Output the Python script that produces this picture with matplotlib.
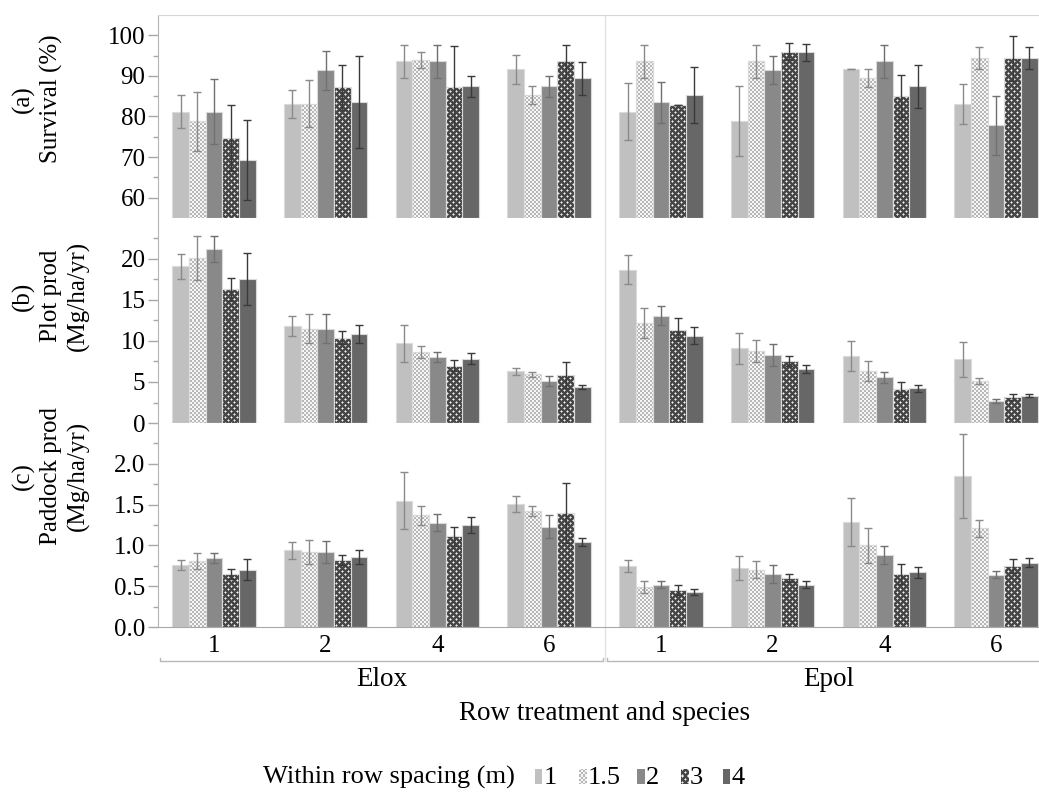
import numpy as np
import matplotlib
matplotlib.use('Agg')
import matplotlib.pyplot as plt
from matplotlib.path import Path
from matplotlib.ticker import FixedLocator, FormatStrFormatter
import matplotlib.transforms as mtransforms

plt.rcParams['font.family'] = ['Liberation Serif', 'DejaVu Serif']

# ---------------- data ----------------
species = ['Elox', 'Epol']
row_treatments = ['1', '2', '4', '6']
spacings = ['1', '1.5', '2', '3', '4']
# columns: Elox 1,2,4,6 then Epol 1,2,4,6 ; rows: spacing 1, 1.5, 2, 3, 4
survival_mean = [
    [81.2, 83.1, 93.6, 91.6, 81.2, 78.9, 91.8, 83.1],
    [78.8, 83.1, 93.9, 85.2, 93.6, 93.6, 89.5, 94.4],
    [81.2, 91.4, 93.6, 87.4, 83.5, 91.5, 93.6, 77.8],
    [74.7, 87.2, 87.2, 93.6, 82.8, 95.9, 85.1, 94.3],
    [69.3, 83.5, 87.4, 89.4, 85.3, 95.8, 87.4, 94.4],
]
survival_err = [
    [4.0, 3.5, 4.0, 3.5, 7.0, 8.7, 0.0, 4.9],
    [7.3, 5.8, 2.0, 2.2, 4.0, 4.0, 2.3, 2.7],
    [8.0, 4.8, 4.0, 2.6, 5.0, 3.5, 4.0, 7.3],
    [8.1, 5.5, 10.1, 4.0, 0.0, 2.1, 5.2, 5.5],
    [9.9, 11.3, 2.6, 4.0, 7.0, 2.1, 5.4, 2.7],
]
plot_mean = [
    [19.1, 11.8, 9.7, 6.3, 18.7, 9.1, 8.17, 7.76],
    [20.1, 11.5, 8.66, 5.97, 12.2, 8.78, 6.34, 5.12],
    [21.2, 11.5, 8.05, 5.16, 13.1, 8.25, 5.56, 2.68],
    [16.3, 10.4, 7.0, 5.85, 11.4, 7.6, 4.14, 3.17],
    [17.6, 10.8, 7.84, 4.39, 10.65, 6.59, 4.22, 3.33],
]
plot_err = [
    [1.55, 1.25, 2.25, 0.4, 1.75, 1.85, 1.83, 2.1],
    [2.7, 1.8, 0.75, 0.3, 1.85, 1.35, 1.2, 0.38],
    [1.6, 1.75, 0.6, 0.6, 1.15, 1.35, 0.65, 0.2],
    [1.4, 0.8, 0.65, 1.55, 1.45, 0.63, 0.83, 0.42],
    [3.15, 1.1, 0.65, 0.2, 1.0, 0.5, 0.43, 0.22],
]
paddock_mean = [
    [0.76, 0.94, 1.55, 1.51, 0.75, 0.72, 1.29, 1.85],
    [0.81, 0.92, 1.37, 1.42, 0.49, 0.70, 1.00, 1.21],
    [0.85, 0.92, 1.28, 1.23, 0.52, 0.65, 0.88, 0.64],
    [0.65, 0.82, 1.11, 1.40, 0.45, 0.60, 0.65, 0.75],
    [0.70, 0.86, 1.25, 1.04, 0.43, 0.52, 0.67, 0.79],
]
paddock_err = [
    [0.06, 0.105, 0.355, 0.10, 0.07, 0.15, 0.295, 0.515],
    [0.10, 0.145, 0.115, 0.065, 0.07, 0.105, 0.21, 0.105],
    [0.06, 0.135, 0.10, 0.145, 0.045, 0.105, 0.107, 0.043],
    [0.06, 0.06, 0.115, 0.365, 0.06, 0.05, 0.123, 0.087],
    [0.13, 0.085, 0.10, 0.05, 0.037, 0.047, 0.065, 0.05],
]
survival_ticks = [60, 70, 80, 90, 100]
plot_ticks = [0, 5, 10, 15, 20]
paddock_ticks = [0.0, 0.5, 1.0, 1.5, 2.0]
panel_labels = ['(a)\nSurvival (%)', '(b)\nPlot prod\n(Mg/ha/yr)', '(c)\nPaddock prod\n(Mg/ha/yr)']

# ---------------- styling ----------------
W, H = 1039, 799
face = ['#c0c0c0', '#d6d6d6', '#898989', '#5c5c5c', '#676767']
ecol = ['#8a8a8a', '#8a8a8a', '#707070', '#3a3a3a', '#3a3a3a']
edge = '#dadada'
bw = 0.149


def hex2rgb(h):
    h = h.lstrip('#')
    return np.array([int(h[i:i + 2], 16) for i in (0, 2, 4)]) / 255.0


def texture(kind, h, w):
    yy, xx = np.mgrid[0:h, 0:w]
    if kind == 'checker':
        m = ((yy // 2 + xx // 2) % 2) == 0
        img = np.where(m[..., None], hex2rgb('#f6f6f6'), hex2rgb('#b8b8b8'))
    else:
        ty, tx = yy % 6, xx % 6
        base = np.zeros((h, w), dtype=int)
        for cy, cx in ((1, 1), (4, 4)):
            base[(ty == cy) & (tx == cx)] = 2
            arm = ((ty == cy) & ((tx == cx - 1) | (tx == cx + 1))) | \
                  ((tx == cx) & ((ty == cy - 1) | (ty == cy + 1)))
            base[arm] = 1
        cols = np.array([hex2rgb('#454545'), hex2rgb('#a8a8a8'), hex2rgb('#f2f2f2')])
        img = cols[base]
    return img


fig = plt.figure(figsize=(W / 100, H / 100), dpi=100)
fig.patch.set_facecolor('white')

xl, xr = 158, 1052
panels_px = [(15, 218), (218, 423), (423, 627)]
datasets = [(survival_mean, survival_err, (55, 105), survival_ticks, '%d'),
            (plot_mean, plot_err, (0, 25), plot_ticks, '%d'),
            (paddock_mean, paddock_err, (0, 2.5), paddock_ticks, '%.1f')]
label_centers = [99, 296, 476]

groups = np.arange(8)
axes = []
for i, ((top, bot), (mean, err, ylim, ticks, fmt)) in enumerate(zip(panels_px, datasets)):
    ax = fig.add_axes([xl / W, 1 - bot / H, (xr - xl) / W, (bot - top) / H])
    axes.append(ax)
    ax.set_xlim(-0.5, 7.5)
    ax.set_ylim(*ylim)
    hpx, wpx = bot - top, xr - xl
    for s in range(5):
        x = groups + (s - 2) * bw
        bars = ax.bar(x, mean[s], width=bw, color=face[s], edgecolor=edge,
                      linewidth=0.8, zorder=1)
        if s in (1, 3):
            tex = texture('checker' if s == 1 else 'dots', hpx, wpx)
            im = ax.imshow(tex, extent=(-0.5, 7.5, ylim[0], ylim[1]), origin='upper',
                           aspect='auto', interpolation='nearest', zorder=1.5)
            paths = [b.get_path().transformed(b.get_patch_transform()) for b in bars]
            cp = Path.make_compound_path(*paths)
            im.set_clip_path(cp, ax.transData)
            ax.bar(x, mean[s], width=bw, facecolor='none', edgecolor=edge,
                   linewidth=0.8, zorder=1.7)
        ax.errorbar(x, mean[s], yerr=err[s], fmt='none', ecolor=ecol[s],
                    elinewidth=1, capsize=3, capthick=1, zorder=3)
    ax.set_xlim(-0.5, 7.5)
    ax.set_ylim(*ylim)
    ax.axvline(3.5, color='#e2e2e2', lw=1, zorder=0.5)
    step = ticks[1] - ticks[0]
    minors = [t + step / 2 for t in [ticks[0] - step] + ticks
              if ylim[0] < t + step / 2 < ylim[1]]
    ax.yaxis.set_major_locator(FixedLocator(ticks))
    ax.yaxis.set_minor_locator(FixedLocator(minors))
    ax.yaxis.set_major_formatter(FormatStrFormatter(fmt))
    ax.tick_params(axis='y', which='major', direction='out', length=7, width=1,
                   color='#a8a8a8', labelsize=18, pad=2)
    ax.tick_params(axis='y', which='minor', direction='out', length=3.5, width=1,
                   color='#a8a8a8')
    ax.spines['right'].set_visible(False)
    ax.spines['left'].set_color('#b4b4b4')
    ax.spines['top'].set_visible(i == 0)
    ax.spines['top'].set_color('#d6d6d6')
    ax.spines['bottom'].set_color('#dcdcdc' if i < 2 else '#a8a8a8')
    if i < 2:
        ax.set_xticks([])
    else:
        ax.set_xticks(groups)
        ax.set_xticklabels(row_treatments * 2)
        ax.tick_params(axis='x', length=0, labelsize=18, pad=6)
    fig.text(12 / W, 1 - label_centers[i] / H, panel_labels[i], rotation=90,
             ha='left', va='center', multialignment='center', fontsize=18,
             linespacing=1.27)

# brackets and species labels under bottom panel
axc = axes[2]
trans = mtransforms.blended_transform_factory(axc.transData, axc.transAxes)
hc = 627 - 423
yb = (627 - 661) / hc
yt = yb + 3 / hc
for k, sp in enumerate(species):
    x0, x1 = -0.5 + 4 * k + 0.02, 3.5 + 4 * k - 0.02
    axc.plot([x0, x0, x1, x1], [yt, yb, yb, yt], color='#b8b8b8', lw=1,
             transform=trans, clip_on=False)
    axc.text(1.5 + 4 * k, (627 - 680) / hc, sp, transform=trans, ha='center',
             va='center', fontsize=19.5)
axc.plot([3.5, 3.5], [0, yb], color='#e2e2e2', lw=1, transform=trans, clip_on=False)

fig.text(605 / W, 1 - 714 / H, 'Row treatment and species', ha='center',
         va='center', fontsize=19.5)

# legend
fig.text(263 / W, 1 - 784 / H, 'Within row spacing (m)', ha='left',
         va='baseline', fontsize=19)
sw_left = [534.5, 578.5, 636.5, 681, 722.5]
for s in range(5):
    lax = fig.add_axes([sw_left[s] / W, 1 - 784 / H, 8 / W, 15 / H])
    if s in (1, 3):
        lax.imshow(texture('checker' if s == 1 else 'dots', 15, 8), aspect='auto',
                   interpolation='nearest')
    else:
        lax.set_facecolor(face[s])
    lax.set_xticks([]); lax.set_yticks([])
    for spn in lax.spines.values():
        spn.set_visible(False)
    fig.text((sw_left[s] + 9) / W, 1 - 784 / H, spacings[s], ha='left',
             va='baseline', fontsize=19)

fig.savefig('out.png', dpi=100)
